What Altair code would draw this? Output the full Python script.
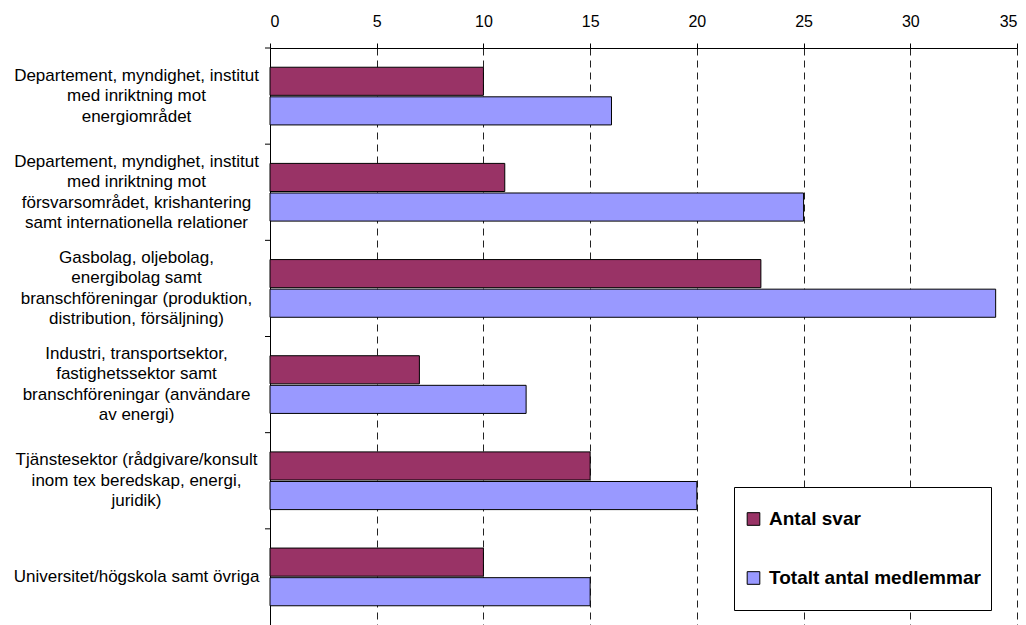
import altair as alt
import pandas as pd

# Respondent groups (line breaks as printed on the axis)
categories = [
    "Departement, myndighet, institut\nmed inriktning mot\nenergiområdet",
    "Departement, myndighet, institut\nmed inriktning mot\nförsvarsområdet, krishantering\nsamt internationella relationer",
    "Gasbolag, oljebolag,\nenergibolag samt\nbranschföreningar (produktion,\ndistribution, försäljning)",
    "Industri, transportsektor,\nfastighetssektor samt\nbranschföreningar (användare\nav energi)",
    "Tjänstesektor (rådgivare/konsult\ninom tex beredskap, energi,\njuridik)",
    "Universitet/högskola samt övriga",
]
series = ["Antal svar", "Totalt antal medlemmar"]
antal_svar = [10, 11, 23, 7, 15, 10]
totalt_medlemmar = [16, 25, 34, 12, 20, 15]
x_ticks = [0, 5, 10, 15, 20, 25, 30, 35]
colors = ["#993366", "#9999FF"]

rows = []
for cat, a, t in zip(categories, antal_svar, totalt_medlemmar):
    rows.append({"grupp": cat, "serie": series[0], "antal": a})
    rows.append({"grupp": cat, "serie": series[1], "antal": t})
df = pd.DataFrame(rows)
cats_df = pd.DataFrame({"grupp": categories})

FONT = "Liberation Sans"
LINE_H = 20.5
BAND_PAD = 0.4

# Multi-line labels are anchored at their first line; shift each block up by
# half of its extra lines so that it sits centred on its band.
n_lines = "length(split(datum.value, '\\n'))"
label_offset = {
    "condition": [
        {"test": f"{n_lines} == 4", "value": -1.5 * LINE_H},
        {"test": f"{n_lines} == 3", "value": -1.0 * LINE_H},
        {"test": f"{n_lines} == 2", "value": -0.5 * LINE_H},
    ],
    "value": 0,
}

y_enc = alt.Y(
    "grupp:N",
    sort=categories,
    scale=alt.Scale(paddingInner=BAND_PAD, paddingOuter=BAND_PAD / 2),
    axis=alt.Axis(
        title=None,
        ticks=False,
        tickSize=0,
        labelAlign="center",
        labelBaseline="middle",
        labelPadding=134,
        labelOffset=label_offset,
        labelFont=FONT,
        labelFontSize=17,
        labelColor="black",
        labelLineHeight=LINE_H,
        labelLimit=0,
        labelExpr="split(datum.label, '\\n')",
        domainColor="black",
        domainWidth=1,
        grid=False,
    ),
)

bars = alt.Chart(df).mark_bar(stroke="black", strokeWidth=1).encode(
    x=alt.X(
        "antal:Q",
        scale=alt.Scale(domain=[0, 35], nice=False),
        axis=alt.Axis(
            orient="top",
            title=None,
            values=x_ticks,
            tickSize=5,
            tickColor="black",
            labelPadding=14,
            labelFont=FONT,
            labelFontSize=16,
            labelColor="black",
            domainColor="black",
            grid=True,
            gridColor="#222222",
            gridDash=[7, 5],
            gridWidth=1,
        ),
    ),
    y=y_enc,
    yOffset=alt.YOffset("serie:N", sort=series, scale=alt.Scale(paddingInner=0.05)),
    color=alt.Color(
        "serie:N",
        sort=series,
        scale=alt.Scale(domain=series, range=colors),
        legend=alt.Legend(
            title=None,
            orient="none",
            legendX=464,
            legendY=439,
            direction="vertical",
            padding=10,
            fillColor="white",
            strokeColor="black",
            symbolType="square",
            symbolSize=160,
            symbolStrokeColor="black",
            symbolStrokeWidth=1,
            symbolOpacity=1,
            labelFont=FONT,
            labelFontSize=19,
            labelFontWeight="bold",
            labelColor="black",
            labelOffset=6,
            labelLimit=0,
            clipHeight=44,
            rowPadding=15,
        ),
    ),
)

# Small ticks on the category axis at the boundaries between groups,
# drawn on an unpadded band scale of the same categories
cat_ticks = alt.Chart(cats_df).mark_rule(color="black", strokeWidth=1).encode(
    y=alt.Y(
        "grupp:N",
        sort=categories,
        bandPosition=0,
        scale=alt.Scale(paddingInner=0, paddingOuter=0),
        axis=None,
    ),
    x=alt.value(-5),
    x2=alt.value(0),
)

chart = (
    alt.layer(bars, cat_ticks)
    .resolve_scale(y="independent")
    .properties(
        width=747,
        height=577,
        autosize=alt.AutoSizeParams(type="none"),
        padding={"left": 270, "top": 48, "right": 9, "bottom": 0},
        background="white",
    )
    .configure_view(stroke=None)
)

chart.save("out.html", embed_options={"renderer": "svg", "actions": False})
